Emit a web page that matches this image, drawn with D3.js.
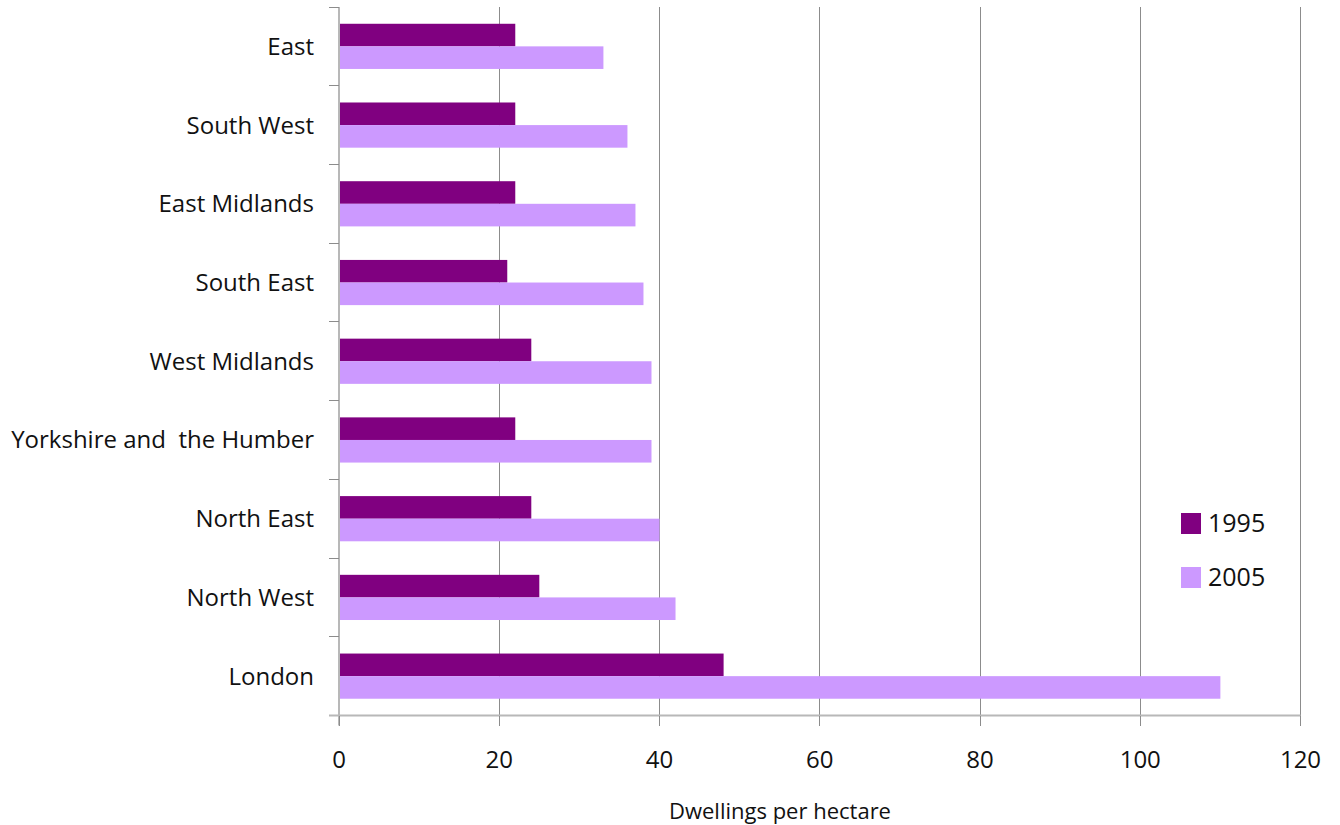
<!DOCTYPE html>
<html><head><meta charset="utf-8">
<script src="https://cdn.jsdelivr.net/npm/d3@7"></script>
<style>
body{margin:0;background:#fff;}
text{font-family:"Open Sans","Noto Sans",sans-serif;fill:#111;}
</style></head>
<body><svg id="c" width="1340" height="825"></svg>
<script>
const categories = ["East","South West","East Midlands","South East","West Midlands","Yorkshire and  the Humber","North East","North West","London"];
const values1995 = [22,22,22,21,24,22,24,25,48];
const values2005 = [33,36,37,38,39,39,40,42,110];
const seriesNames = ["1995","2005"];
const colors = ["#800080","#CC99FF"];
const xTicks = [0,20,40,60,80,100,120];

(function(){
const svg = d3.select("#c");
const pL = 339, pR = 1300.5, pT = 7, pB = 715.5;
const x = d3.scaleLinear().domain([0,120]).range([pL,pR]);
const y = d3.scaleBand().domain(categories).range([pT,pB]).padding(0);
const groupPad = 0.213;
const barH = y.bandwidth()*(1-2*groupPad)/2;

// gridlines
svg.append("g").selectAll("line").data(xTicks.slice(1)).join("line")
  .attr("x1",d=>x(d)).attr("x2",d=>x(d)).attr("y1",pT).attr("y2",pB)
  .attr("stroke","#8c8c8c").attr("stroke-width",1).attr("shape-rendering","crispEdges");

// bars
const series = [values1995, values2005];
series.forEach((vals,si)=>{
  svg.append("g").selectAll("rect").data(categories).join("rect")
    .attr("x",x(0))
    .attr("y",(d)=>y(d)+y.bandwidth()*groupPad+si*barH)
    .attr("width",(d,i)=>x(vals[i])-x(0))
    .attr("height",barH)
    .attr("fill",colors[si]);
});

// y axis
const yAxis = svg.append("g").attr("transform",`translate(${pL},0)`);
yAxis.append("line").attr("x1",0).attr("x2",0).attr("y1",pT).attr("y2",pB+10)
  .attr("stroke","#b8b8b8").attr("stroke-width",2);
const yBounds = categories.map(c=>y(c)).concat([pB]);
yAxis.selectAll("line.t").data(yBounds).join("line").attr("class","t")
  .attr("x1",-10).attr("x2",0).attr("y1",d=>d).attr("y2",d=>d)
  .attr("stroke","#8c8c8c").attr("stroke-width",1).attr("shape-rendering","crispEdges");
yAxis.selectAll("text").data(categories).join("text")
  .attr("x",-25).attr("y",d=>y(d)+y.bandwidth()/2+2)
  .attr("text-anchor","end").attr("dominant-baseline","middle")
  .style("white-space","pre").attr("font-size",24).text(d=>d);

// x axis
const xAxis = svg.append("g");
xAxis.append("line").attr("x1",pL-10).attr("x2",pR).attr("y1",pB).attr("y2",pB)
  .attr("stroke","#b8b8b8").attr("stroke-width",2);
xAxis.selectAll("line.t").data(xTicks).join("line").attr("class","t")
  .attr("x1",d=>x(d)).attr("x2",d=>x(d)).attr("y1",pB).attr("y2",pB+10)
  .attr("stroke","#8c8c8c").attr("stroke-width",1).attr("shape-rendering","crispEdges");
xAxis.selectAll("text").data(xTicks).join("text")
  .attr("x",d=>x(d)).attr("y",762).attr("text-anchor","middle").attr("dominant-baseline","middle")
  .attr("font-size",24).text(d=>d);

svg.append("text").attr("x",780).attr("y",813).attr("text-anchor","middle")
  .attr("dominant-baseline","middle").attr("font-size",22).text("Dwellings per hectare");

// legend
const leg = svg.append("g");
seriesNames.forEach((s,i)=>{
  const g = leg.append("g").attr("transform",`translate(1181,${513+i*54})`);
  g.append("rect").attr("width",20).attr("height",21).attr("fill",colors[i]);
  g.append("text").attr("x",27).attr("y",12).attr("dominant-baseline","middle")
    .attr("font-size",25).text(s);
});
})();
</script></body></html>
